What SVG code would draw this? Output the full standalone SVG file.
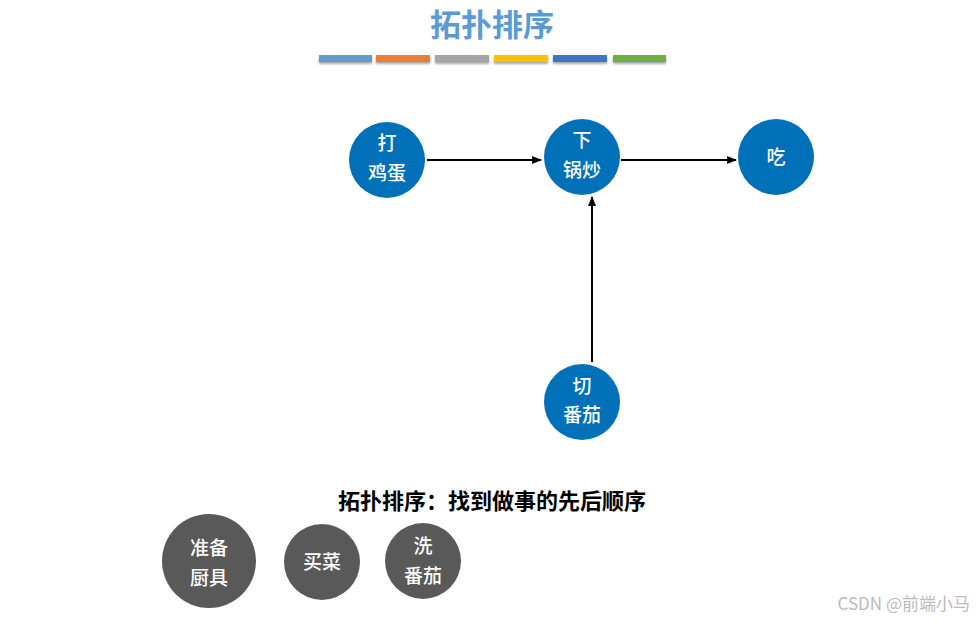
<svg xmlns="http://www.w3.org/2000/svg" width="976" height="622" viewBox="0 0 976 622">
<defs>
<marker id="ah" markerWidth="10" markerHeight="8" refX="9" refY="4" orient="auto" markerUnits="userSpaceOnUse">
<path d="M0,0 L10,4 L0,8 Z" fill="#000"/>
</marker>
<filter id="sh" x="-10%" y="-50%" width="120%" height="250%">
<feDropShadow dx="0" dy="2" stdDeviation="1.2" flood-color="#000" flood-opacity="0.35"/>
</filter>
</defs>
<style>
text{font-family:"Noto Sans CJK SC","Liberation Sans",sans-serif;}
.n{fill:#0070B8;}
.g{fill:#595959;}
.t{fill:#fff;font-size:19px;font-weight:500;text-anchor:middle;}
.c{stroke:#000;stroke-width:2;fill:none;marker-end:url(#ah);}
</style>
<rect width="976" height="622" fill="#fff"/>
<text x="492" y="36" text-anchor="middle" font-size="31" font-weight="bold" fill="#5B9BD5">拓扑排序</text>
<g id="bars" filter="url(#sh)">
<rect x="319" y="55" width="53" height="7" fill="#5B9BD5"/>
<rect x="376" y="55" width="54" height="7" fill="#ED7D31"/>
<rect x="435" y="55" width="54" height="7" fill="#A5A5A5"/>
<rect x="494" y="55" width="54" height="7" fill="#FFC000"/>
<rect x="553" y="55" width="54" height="7" fill="#4472C4"/>
<rect x="613" y="55" width="53" height="7" fill="#70AD47"/>
</g>
<g id="connectors">
<line class="c" x1="427" y1="160" x2="541" y2="160"/>
<line class="c" x1="621" y1="160" x2="736" y2="160"/>
<line class="c" x1="592" y1="362" x2="592" y2="197"/>
</g>
<g id="node-daji">
<circle class="n" cx="387" cy="160" r="38"/>
<text class="t" x="387" y="150">打</text>
<text class="t" x="387" y="180">鸡蛋</text>
</g>
<g id="node-xiaguo">
<circle class="n" cx="582" cy="157" r="38"/>
<text class="t" x="582" y="147">下</text>
<text class="t" x="582" y="177">锅炒</text>
</g>
<g id="node-chi">
<circle class="n" cx="776" cy="157" r="38"/>
<text class="t" x="776" y="164">吃</text>
</g>
<g id="node-qie">
<circle class="n" cx="582" cy="402" r="38"/>
<text class="t" x="582" y="393">切</text>
<text class="t" x="582" y="422">番茄</text>
</g>
<text x="492" y="509" text-anchor="middle" font-size="22" font-weight="bold" fill="#000">拓扑排序：找到做事的先后顺序</text>
<g id="node-zhunbei">
<circle class="g" cx="209" cy="561" r="47"/>
<text class="t" x="209" y="555">准备</text>
<text class="t" x="209" y="585">厨具</text>
</g>
<g id="node-maicai">
<circle class="g" cx="322" cy="562" r="38"/>
<text class="t" x="322" y="569">买菜</text>
</g>
<g id="node-xi">
<circle class="g" cx="423" cy="561" r="38"/>
<text class="t" x="423" y="553">洗</text>
<text class="t" x="423" y="583">番茄</text>
</g>
<text x="970" y="610" text-anchor="end" font-size="17" fill="#bbb">CSDN @前端小马</text>
</svg>
